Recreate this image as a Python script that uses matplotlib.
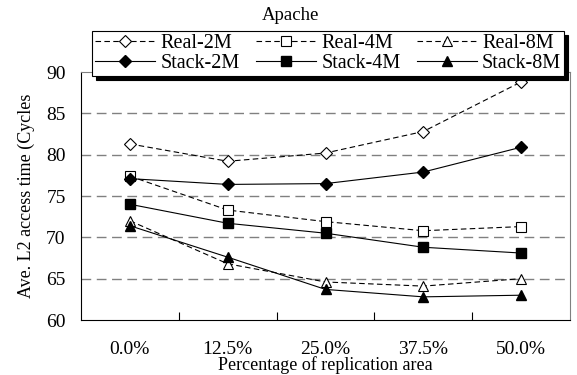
import numpy as np
import matplotlib.pyplot as plt

plt.rcParams['font.family'] = ['Liberation Serif', 'DejaVu Serif']

# 데이터
categories = ['0.0%', '12.5%', '25.0%', '37.5%', '50.0%']
real_2m = [81.3, 79.2, 80.2, 82.8, 88.8]
real_4m = [77.4, 73.3, 71.9, 70.8, 71.3]
real_8m = [72.0, 66.8, 64.6, 64.1, 65.0]
stack_2m = [77.1, 76.4, 76.5, 77.9, 80.9]
stack_4m = [74.0, 71.7, 70.5, 68.8, 68.1]
stack_8m = [71.4, 67.6, 63.7, 62.8, 63.0]

x = np.arange(len(categories))

fig = plt.figure(figsize=(5.77, 3.75), dpi=100)
ax = fig.add_axes([81 / 577, 55 / 375, 489 / 577, 248 / 375])

# 가로 점선 격자
for v in [65, 70, 75, 80, 85]:
    ax.axhline(v, color='#808080', linestyle=(0, (7, 4)), linewidth=1.0, zorder=1)

ms = 7
dash = (0, (5, 3))
lines = {}
lines['r2'], = ax.plot(x, real_2m, linestyle=dash, color='black', linewidth=0.8, marker='D', markersize=ms - 1,
                       markerfacecolor='white', markeredgecolor='black', markeredgewidth=0.8, label='Real-2M', zorder=3)
lines['r4'], = ax.plot(x, real_4m, linestyle=dash, color='black', linewidth=0.8, marker='s', markersize=ms,
                       markerfacecolor='white', markeredgecolor='black', markeredgewidth=0.8, label='Real-4M', zorder=3)
lines['r8'], = ax.plot(x, real_8m, linestyle=dash, color='black', linewidth=0.8, marker='^', markersize=ms,
                       markerfacecolor='white', markeredgecolor='black', markeredgewidth=0.8, label='Real-8M', zorder=3)
lines['s2'], = ax.plot(x, stack_2m, linestyle='-', color='black', linewidth=0.8, marker='D', markersize=ms - 1,
                       markerfacecolor='black', label='Stack-2M', zorder=3)
lines['s4'], = ax.plot(x, stack_4m, linestyle='-', color='black', linewidth=0.8, marker='s', markersize=ms,
                       markerfacecolor='black', label='Stack-4M', zorder=3)
lines['s8'], = ax.plot(x, stack_8m, linestyle='-', color='black', linewidth=0.8, marker='^', markersize=ms,
                       markerfacecolor='black', label='Stack-8M', zorder=3)

ax.set_xlim(-0.5, 4.5)
ax.set_ylim(60, 90)
ax.set_yticks([60, 65, 70, 75, 80, 85, 90])
ax.set_xticks(x)
ax.set_xticklabels(categories)
ax.set_xticks(x[:-1] + 0.5, minor=True)
ax.tick_params(axis='x', which='major', length=0, pad=15, labelsize=14)
ax.tick_params(axis='x', which='minor', direction='in', length=6, width=0.8)
ax.tick_params(axis='y', length=0, pad=11, labelsize=14)

for s in ax.spines.values():
    s.set_linewidth(0.8)
ax.spines['top'].set_color('#808080')
ax.spines['right'].set_color('#808080')

ax.set_xlabel('Percentage of replication area', fontsize=13, labelpad=-1)
ax.set_ylabel('Ave. L2 access time (Cycles', fontsize=13, labelpad=8)

fig.text(290 / 577, 1 - 16 / 375, 'Apache', ha='center', va='center', fontsize=13.5)

# 행 순서: Real 위, Stack 아래 (열 단위 채움)
order = ['r2', 's2', 'r4', 's4', 'r8', 's8']
handles = [lines[k] for k in order]
leg = ax.legend(handles, [h.get_label() for h in handles], ncol=3, loc='lower left',
                bbox_to_anchor=(11 / 489, 0.984),
                fontsize=14.5, frameon=True, fancybox=False,
                shadow={'color': 'black', 'alpha': 1, 'ox': 3, 'oy': -3},
                edgecolor='black', framealpha=1, borderpad=0.15, handlelength=3.0,
                handletextpad=0.25, columnspacing=0.8, labelspacing=0.05,
                borderaxespad=0)
leg.get_frame().set_linewidth(0.8)
leg.set_zorder(5)

plt.savefig('out.png', dpi=100)
